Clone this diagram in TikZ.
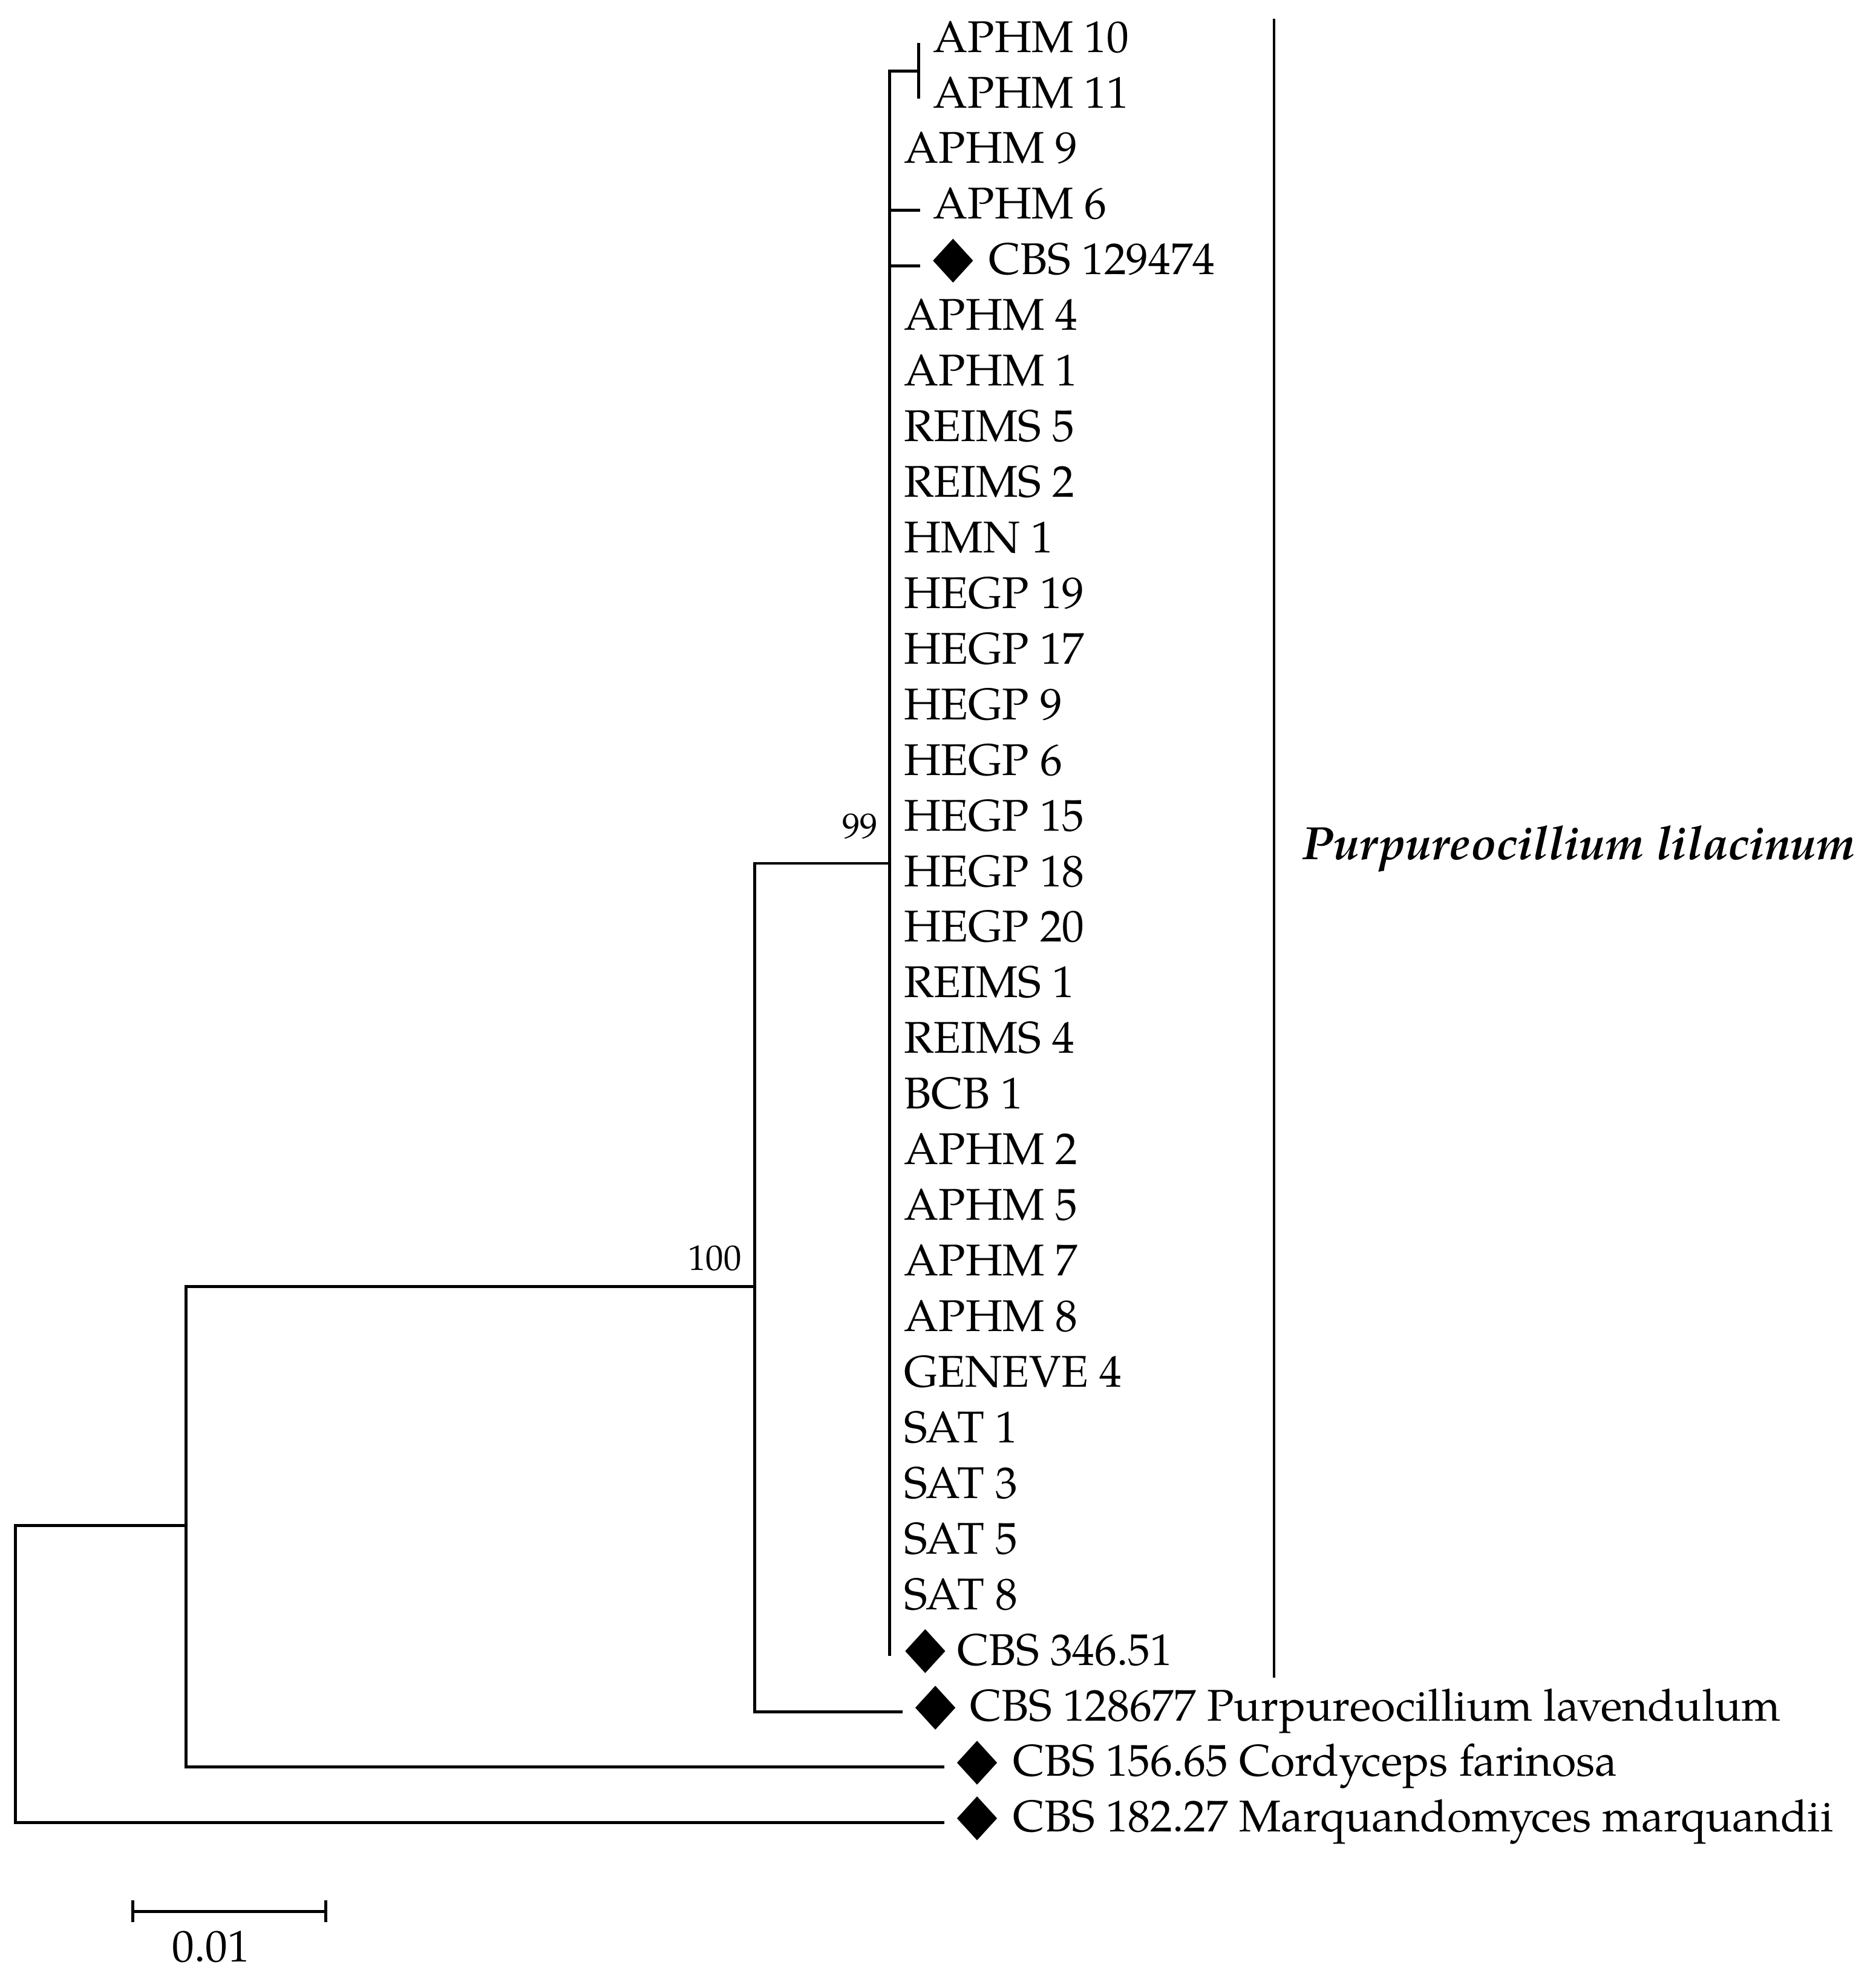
\documentclass[tikz,border=0pt]{standalone}
\usepackage{fontspec}
\setmainfont{texgyrepagella}[Extension=.otf, UprightFont=*-regular, BoldFont=*-bold, ItalicFont=*-italic, BoldItalicFont=*-bolditalic]
\usetikzlibrary{shapes.geometric, arrows.meta}

\begin{document}
\begin{tikzpicture}[
        x=0.02cm, y=-0.02cm,
        branch/.style={line width=1.35pt},
        taxon/.style={anchor=base west, inner sep=0pt, font=\fontsize{20}{24}\selectfont},
        marker/.style={diamond, fill=black, inner sep=0pt, minimum width=0.64cm, minimum height=0.7cm},
        support/.style={anchor=base east, inner sep=0pt, font=\fontsize{16}{19}\selectfont}
    ]
        \useasboundingbox (0,0) rectangle (1484,1568);

        % Clade tips
        \node[taxon] (t0) at (738,41.2) {APHM 10};
        \node[taxon] (t1) at (738,85.2) {APHM 11};
        \node[taxon] (t2) at (715,129.2) {APHM 9};
        \node[taxon] (t3) at (738,173.2) {APHM 6};
        \node[marker] (m4) at (754,206.2) {};
        \node[taxon] (t4) at (782,217.2) {CBS 129474};
        \foreach \lab [count=\r from 5] in {APHM 4, APHM 1, REIMS 5, REIMS 2, HMN 1, HEGP 19, HEGP 17, HEGP 9, HEGP 6, HEGP 15, HEGP 18, HEGP 20, REIMS 1, REIMS 4, BCB 1, APHM 2, APHM 5, APHM 7, APHM 8, GENEVE 4, SAT 1, SAT 3, SAT 5, SAT 8}
            \node[taxon] (t\r) at (715,{41.2+44*\r}) {\lab};
        \node[marker] (m29) at (732,1306.2) {};
        \node[taxon] (t29) at (757,1317.2) {CBS 346.51};

        % Outgroups
        \node[marker] (mLav) at (740,1351) {};
        \node[taxon] (tLav) at (767,1361.5) {CBS 128677 Purpureocillium lavendulum};
        \node[marker] (mCord) at (773,1394.5) {};
        \node[taxon] (tCord) at (801,1405) {CBS 156.65 Cordyceps farinosa};
        \node[marker] (mMarq) at (773,1438.5) {};
        \node[taxon] (tMarq) at (801,1449) {CBS 182.27 Marquandomyces marquandii};

        % Branch ends
        \coordinate (e1) at (727,78.2);
        \coordinate (e3) at (728,166.2);
        \coordinate (e4) at (728,210.2);
        \coordinate (e29) at (704,1310.2);
        \coordinate (eLav) at (714,1354.5);
        \coordinate (eCord) at (747,1398);
        \coordinate (eMarq) at (747,1442);

        % Inner nodes
        \coordinate (nR) at (12,1207);
        \coordinate (nA) at (147,1018);
        \coordinate (nB) at (597,683);
        \coordinate (nC) at (704,56.2);
        \coordinate (nD) at (727,34.2);

        % Tree
        \draw[branch] (nA) |- (nR) |- (eMarq);
        \draw[branch] (nC) |- (nB) |- (nA) |- (eCord);
        \draw[branch] (nB) |- (eLav);
        \draw[branch] (nD) |- (nC) -- (e29);
        \draw[branch] (nD) -- (e1);
        \draw[branch] (nC |- e3) -- (e3);
        \draw[branch] (nC |- e4) -- (e4);

        % Support values
        \node[support] (bs100) at (587,1005) {100};
        \node[support] (bs99) at (695,663) {99};

        % Clade bar
        \coordinate (cladeTop) at (1008,15);
        \coordinate (cladeBot) at (1008,1327);
        \draw[line width=1.3pt] (cladeTop) -- (cladeBot);
        \node[taxon, font=\fontsize{21}{25}\selectfont\bfseries\itshape] (clade) at (1030,680) {Purpureocillium lilacinum};

        % Scale bar
        \coordinate (sbL) at (104,1512);
        \coordinate (sbR) at (259,1512);
        \draw[branch, {Bar[width=0.34cm]}-{Bar[width=0.34cm]}] (sbL) -- (sbR);
        \node[taxon] (sbLab) at (136,1552) {0.01};

    \end{tikzpicture}
\end{document}
